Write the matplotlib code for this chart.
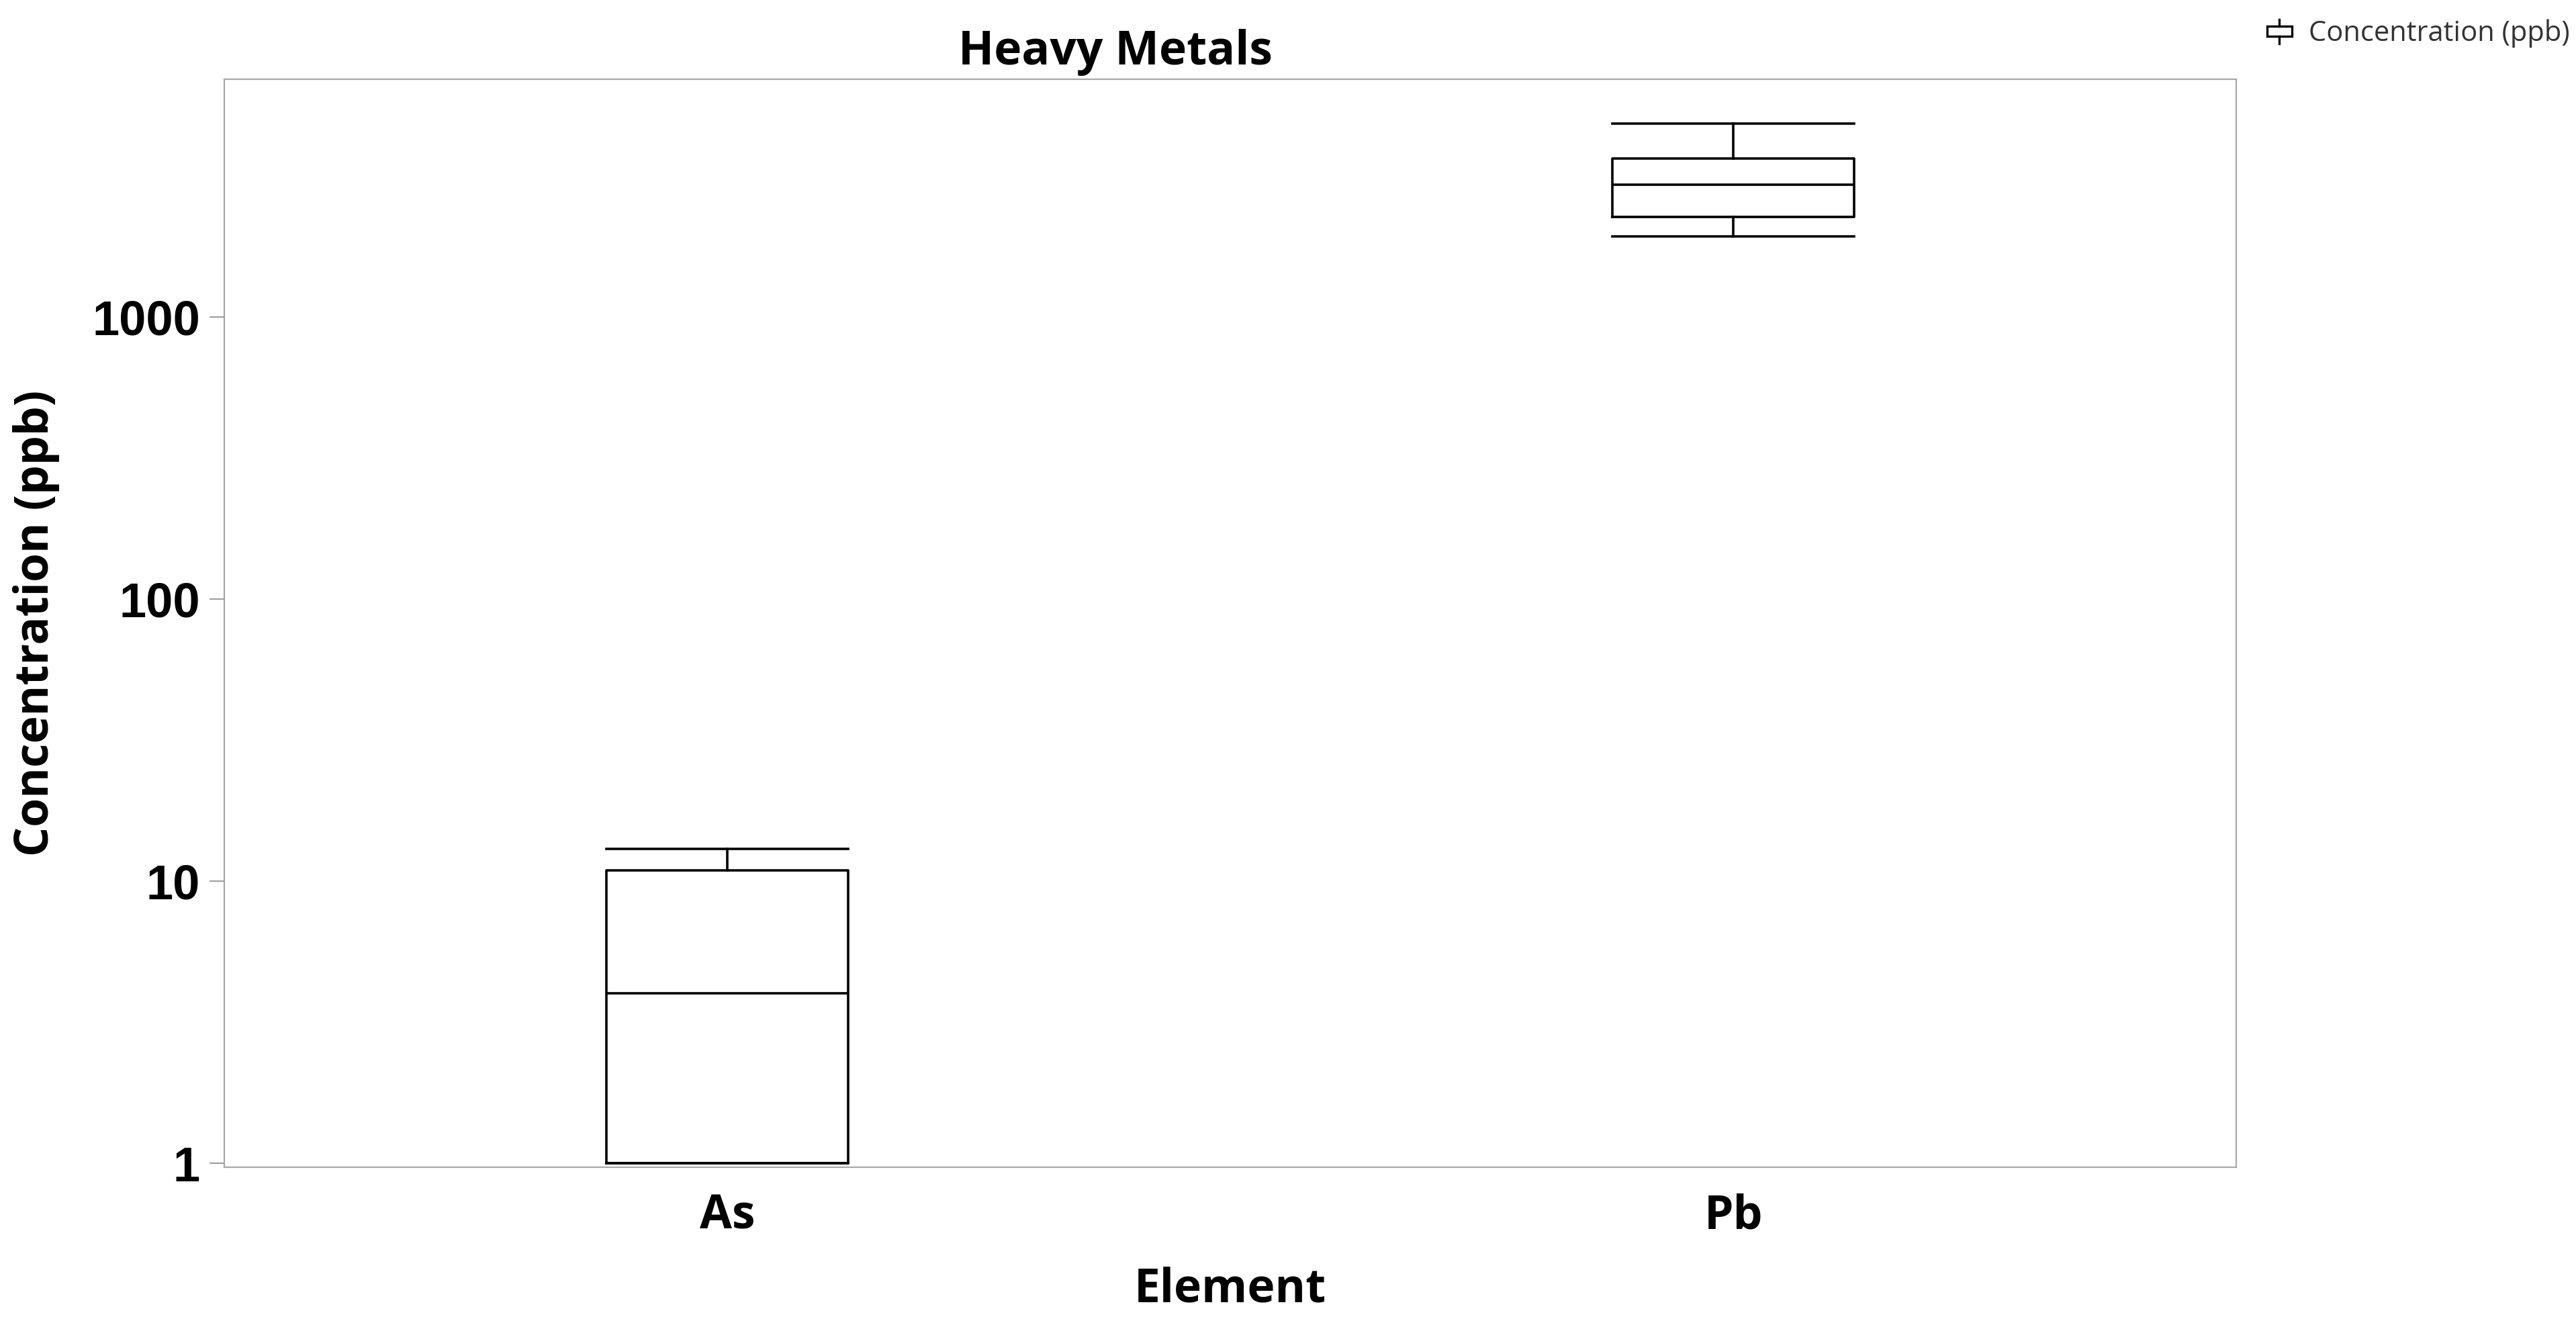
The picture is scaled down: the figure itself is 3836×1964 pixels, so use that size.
import matplotlib
matplotlib.use("Agg")
import matplotlib.pyplot as plt
from matplotlib.legend_handler import HandlerBase
from matplotlib.patches import Rectangle
from matplotlib.lines import Line2D

# data (ppb, log scale)
elements = ["As", "Pb"]
whisker_low = [1.0, 1930]
q1 = [1.0, 2260]
median = [4.0, 2940]
q3 = [10.9, 3650]
whisker_high = [13.0, 4850]
y_ticks = [1, 10, 100, 1000]

label_font = "Open Sans"
tick_font = "Liberation Sans"


class BoxIconHandler(HandlerBase):
    # small box-and-whisker glyph for the legend
    def create_artists(self, legend, orig_handle, xdescent, ydescent,
                       width, height, fontsize, trans):
        cx = width / 2 - xdescent
        cy = height / 2 - ydescent
        bw = width
        bh = height * 0.5
        rect = Rectangle((cx - bw / 2, cy - bh / 2), bw, bh, fill=False,
                         edgecolor="black", linewidth=1.2, transform=trans)
        top = Line2D([cx, cx], [cy + bh / 2, cy + height * 0.62],
                     color="black", linewidth=1.2, transform=trans)
        bot = Line2D([cx, cx], [cy - bh / 2, cy - height * 0.62],
                     color="black", linewidth=1.2, transform=trans)
        return [rect, top, bot]


fig = plt.figure(figsize=(19.18, 9.82), dpi=200)
ax = fig.add_axes([0.0871, 0.1151, 0.7810, 0.8248])

stats = []
for i, name in enumerate(elements):
    stats.append({"label": name, "whislo": whisker_low[i], "q1": q1[i],
                  "med": median[i], "q3": q3[i], "whishi": whisker_high[i],
                  "fliers": []})

lw = 1.3
box_w = 0.24
ax.bxp(stats, positions=[1, 2], widths=box_w, capwidths=box_w,
       showfliers=False,
       boxprops=dict(color="black", linewidth=lw),
       medianprops=dict(color="black", linewidth=lw),
       whiskerprops=dict(color="black", linewidth=lw),
       capprops=dict(color="black", linewidth=lw))

ax.set_yscale("log")
ax.set_ylim(0.968, 6966)
ax.set_xlim(0.5, 2.5)
ax.set_yticks(y_ticks)
ax.set_yticklabels([str(t) for t in y_ticks], fontfamily=tick_font,
                   fontweight="bold", fontsize=26)
ax.yaxis.set_minor_locator(matplotlib.ticker.NullLocator())
ax.set_xticks([1, 2])
ax.set_xticklabels(elements, fontfamily=label_font, fontweight="bold",
                   fontsize=25)

ax.tick_params(axis="y", length=8, width=0.8, color="#a0a0a0", pad=5)
ax.tick_params(axis="x", length=0, pad=14)
for s in ax.spines.values():
    s.set_color("#a8a8a8")
    s.set_linewidth(0.8)

ax.set_title("Heavy Metals", x=0.443, fontfamily=label_font,
             fontweight="bold", fontsize=25, pad=8)
ax.set_xlabel("Element", fontfamily=label_font, fontweight="bold",
              fontsize=25, labelpad=14)
ax.set_ylabel("Concentration (ppb)", fontfamily=label_font,
              fontweight="bold", fontsize=25, va="center")
ax.yaxis.set_label_coords(-0.0935, 0.5)

proxy = Rectangle((0, 0), 1, 1)
fig.legend([proxy], ["Concentration (ppb)"], loc="upper right",
           bbox_to_anchor=(1.003, 0.996), borderaxespad=0.1, frameon=False,
           handler_map={Rectangle: BoxIconHandler()},
           handlelength=0.9, handletextpad=0.6,
           prop={"family": label_font, "size": 15}, labelcolor="#333333")

fig.savefig("out.png", dpi=200, facecolor="white")
